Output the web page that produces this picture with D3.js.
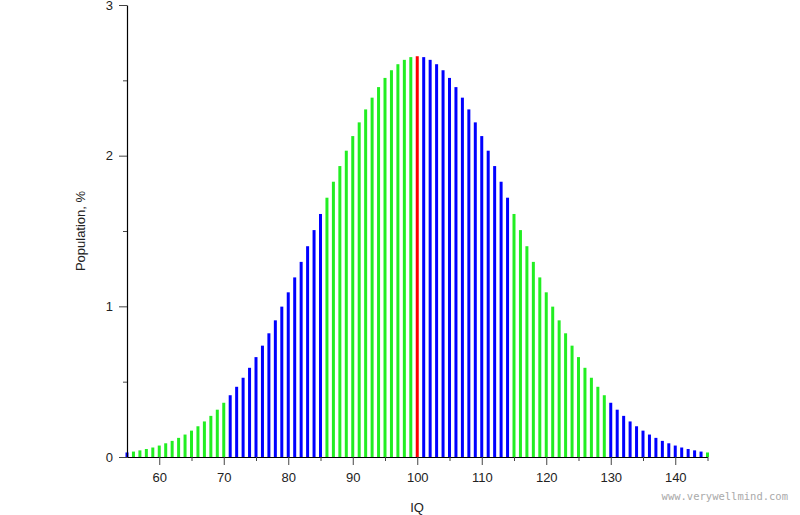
<!DOCTYPE html>
<html><head><meta charset="utf-8">
<script src="https://cdn.jsdelivr.net/npm/d3@7"></script>
<style>body{margin:0;background:#fff}svg{display:block}</style>
</head><body>
<svg id="c" width="800" height="515"></svg>
<script>
const iq = d3.range(55, 146);
const population = [
0.030,0.036,0.044,0.053,0.063,0.076,0.091,0.107,0.127,0.149,
0.175,0.204,0.236,0.273,0.314,0.360,0.410,0.466,0.526,0.592,
0.663,0.739,0.821,0.907,0.998,1.093,1.192,1.295,1.399,1.506,
1.613,1.721,1.827,1.931,2.033,2.130,2.221,2.307,2.385,2.455,
2.516,2.567,2.607,2.636,2.654,2.660,2.654,2.636,2.607,2.567,
2.516,2.455,2.385,2.307,2.221,2.130,2.033,1.931,1.827,1.721,
1.613,1.506,1.399,1.295,1.192,1.093,0.998,0.907,0.821,0.739,
0.663,0.592,0.526,0.466,0.410,0.360,0.314,0.273,0.236,0.204,
0.175,0.149,0.127,0.107,0.091,0.076,0.063,0.053,0.044,0.036,0.030];
// band starts (IQ) and their colors
const bandStarts = [55, 56, 71, 86, 100, 101, 115, 130, 145];
const bandColors = ["#0000ff","#22ee22","#0000ff","#22ee22","#ff0000","#0000ff","#22ee22","#0000ff","#22ee22"];
const xTicks = [60,70,80,90,100,110,120,130,140];
const xMinor = [65,75,85,95,105,115,125,135,145];
const yTicks = [0,1,2,3];
const yMinor = [0.5,1.5,2.5];

const svg = d3.select("#c");
const x = d3.scaleLinear().domain([55,145]).range([127,707.5]);
const y = d3.scaleLinear().domain([0,3]).range([457,5]);
const colorOf = v => bandColors[d3.bisectRight(bandStarts, v) - 1];
const data = iq.map((v,i)=>({iq:v, p:population[i]}));

svg.append("g").selectAll("rect").data(data).join("rect")
  .attr("x", d=>x(d.iq)-1.5).attr("width",3)
  .attr("y", d=>y(d.p)).attr("height", d=>y(0)-y(d.p))
  .attr("fill", d=>colorOf(d.iq));

const font = "Liberation Sans, Arial, sans-serif";
const gx = svg.append("g").attr("transform","translate(0,457)")
  .call(d3.axisBottom(x).tickValues(xTicks).tickSize(8).tickPadding(8).tickSizeOuter(0));
const gxm = svg.append("g").attr("transform","translate(0,457)")
  .call(d3.axisBottom(x).tickValues(xMinor).tickSize(4).tickFormat("").tickSizeOuter(0));
const gy = svg.append("g").attr("transform","translate(127,0)")
  .call(d3.axisLeft(y).tickValues(yTicks).tickFormat(d3.format("d")).tickSize(8).tickPadding(6).tickSizeOuter(0));
const gym = svg.append("g").attr("transform","translate(127,0)")
  .call(d3.axisLeft(y).tickValues(yMinor).tickSize(4).tickFormat("").tickSizeOuter(0));
[gx,gxm,gy,gym].forEach(g=>{
  g.selectAll(".domain").attr("stroke","#000").attr("stroke-width",1.2);
  g.selectAll(".tick line").attr("stroke","#444");
  g.selectAll("text").attr("font-family",font).attr("font-size",13).attr("fill","#222");
});
gxm.select(".domain").remove(); gym.select(".domain").remove();

svg.append("text").attr("x",417).attr("y",512).attr("text-anchor","middle")
  .attr("font-family",font).attr("font-size",13).attr("fill","#222").text("IQ");
svg.append("text").attr("transform","translate(85,231) rotate(-90)").attr("text-anchor","middle")
  .attr("font-family",font).attr("font-size",13).attr("fill","#222").text("Population, %");
svg.append("text").attr("x",788).attr("y",500).attr("text-anchor","end")
  .attr("font-family","DejaVu Sans Mono, monospace").attr("font-size",10.5).attr("fill","#aaa")
  .text("www.verywellmind.com");
</script>
</body></html>
